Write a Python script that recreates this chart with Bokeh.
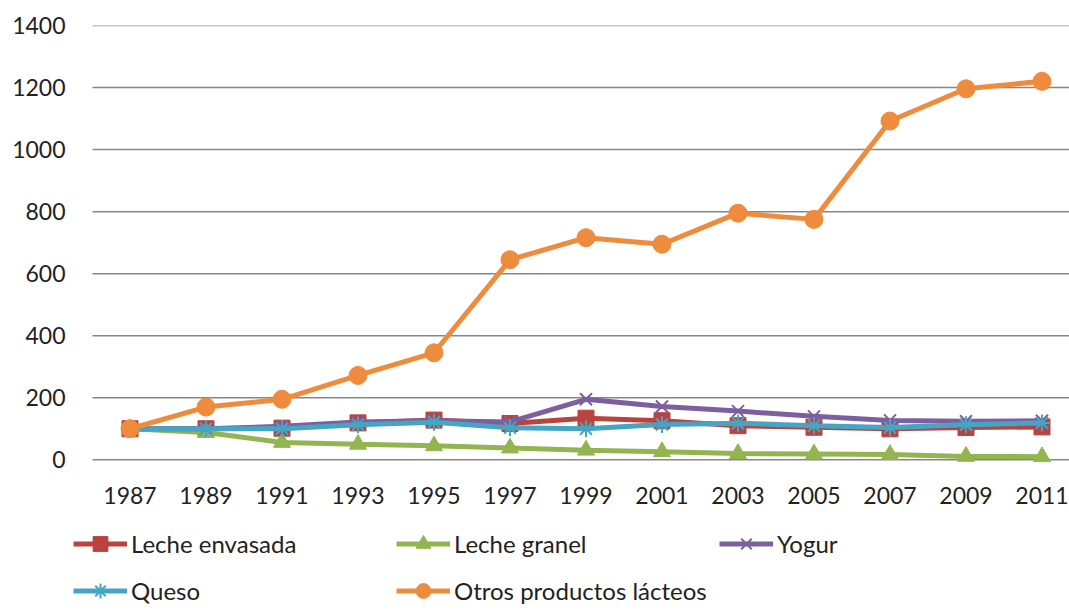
from bokeh.plotting import figure
from bokeh.models import Range1d, FixedTicker, Legend, LegendItem, LabelSet, ColumnDataSource
from bokeh.core.properties import value
from bokeh.embed import file_html
from bokeh.resources import INLINE

# ---- data ----
years = [1987, 1989, 1991, 1993, 1995, 1997, 1999, 2001, 2003, 2005, 2007, 2009, 2011]
year_labels = [str(y) for y in years]
leche_envasada = [100, 100, 102, 119, 128, 117, 134, 126, 110, 105, 100, 104, 106]
leche_granel = [100, 88, 56, 50, 45, 38, 31, 26, 20, 19, 17, 11, 10]
yogur = [100, 100, 108, 122, 126, 122, 195, 172, 157, 140, 127, 124, 126]
queso = [100, 100, 100, 113, 121, 103, 100, 114, 118, 110, 104, 113, 119]
otros = [100, 170, 195, 272, 345, 645, 716, 695, 795, 775, 1092, 1196, 1220]
y_ticks = [0, 200, 400, 600, 800, 1000, 1200, 1400]

series = [
    ("Leche envasada", leche_envasada, "#B9433F", "square", 16),
    ("Leche granel", leche_granel, "#93B550", "triangle", 17),
    ("Yogur", yogur, "#7D5FA0", "x", 17),
    ("Queso", queso, "#45A5C2", "asterisk", 17),
    ("Otros productos lácteos", otros, "#EE8B3C", "circle", 18),
]

FONT = "Lato"
TEXT = "#222222"

X_START, X_END = 1985.513, 2011.724   # plot area (includes legend column)
GRID_START = 1986.013                 # left end of horizontal gridlines
Y_START, Y_END = -485.8, 1400
YEAR_LABEL_Y = -115                   # vertical position of category labels

p = figure(width=1069, height=610, output_backend="svg", toolbar_location=None,
           x_range=Range1d(X_START, X_END), y_range=Range1d(Y_START, Y_END),
           x_axis_location=None,
           min_border_left=73, min_border_right=0, min_border_top=25,
           min_border_bottom=0)
p.outline_line_color = None
p.background_fill_color = "white"
p.border_fill_color = "white"
p.grid.grid_line_color = None

# horizontal gridlines at the value-axis ticks
p.segment(x0=[GRID_START] * len(y_ticks), y0=y_ticks,
          x1=[X_END] * len(y_ticks), y1=y_ticks,
          line_color="#878787", line_width=1.5)

p.yaxis.ticker = FixedTicker(ticks=y_ticks)
p.yaxis.axis_line_color = None
p.yaxis.major_tick_line_color = None
p.yaxis.minor_tick_line_color = None
p.yaxis.major_tick_out = 0
p.yaxis.major_tick_in = 0
p.yaxis.major_label_text_font = FONT
p.yaxis.major_label_text_font_size = "23px"
p.yaxis.major_label_text_color = TEXT
p.yaxis.major_label_standoff = 8

# category labels under the plot
lab_src = ColumnDataSource(dict(x=years, text=year_labels))
p.add_layout(LabelSet(x="x", y=YEAR_LABEL_Y, text="text", source=lab_src,
                      text_align="center", text_baseline="middle",
                      text_font=value(FONT), text_font_size=value("23px"),
                      text_color=TEXT))

items = []
for name, vals, color, marker, size in series:
    lr = p.line(years, vals, line_color=color, line_width=5)
    if marker in ("x", "asterisk"):
        sr = p.scatter(years, vals, marker=marker, size=size, line_color=color,
                       line_width=2, fill_color=color)
    else:
        sr = p.scatter(years, vals, marker=marker, size=size, line_color=color,
                       fill_color=color)
    items.append(LegendItem(label=name, renderers=[lr, sr]))

leg = Legend(items=items, location=(0, 1), orientation="horizontal", ncols=3,
             glyph_width=54, glyph_height=37, label_standoff=4, label_width=255,
             spacing=10, padding=0, margin=0, border_line_color=None,
             background_fill_alpha=0, label_text_font=FONT,
             label_text_font_size="24px", label_text_color=TEXT)
p.add_layout(leg, "center")

open("out.html", "w").write(file_html(p, INLINE))
